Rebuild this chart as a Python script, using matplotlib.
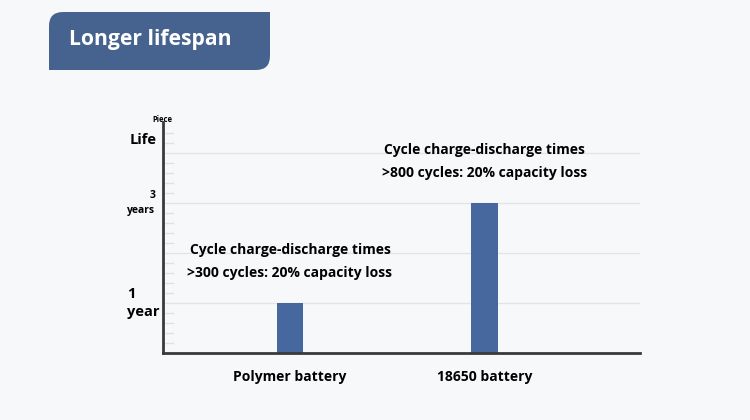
import matplotlib
matplotlib.use('Agg')
import matplotlib.pyplot as plt
from matplotlib.path import Path
from matplotlib.patches import PathPatch

plt.rcParams['font.family'] = ['Open Sans', 'DejaVu Sans']

batteries = ['Polymer battery', '18650 battery']
life_years = [1, 3]
notes = ['Cycle charge-discharge times\n>300 cycles: 20% capacity loss',
         'Cycle charge-discharge times\n>800 cycles: 20% capacity loss']

bg = '#f7f8fa'
blue = '#47689e'

fig = plt.figure(figsize=(7.5, 4.2), dpi=100, facecolor=bg)

# title badge, drawn in pixel coordinates
ov = fig.add_axes([0, 0, 1, 1], zorder=0)
ov.set_xlim(0, 750)
ov.set_ylim(420, 0)
ov.axis('off')
x0, x1, y0, y1, r = 49, 270, 12, 70, 14
verts = [(x0, y1), (x0, y0 + r), (x0, y0), (x0 + r, y0), (x1, y0),
         (x1, y1 - r), (x1, y1), (x1 - r, y1), (x0, y1), (x0, y1)]
codes = [Path.MOVETO, Path.LINETO, Path.CURVE3, Path.CURVE3, Path.LINETO,
         Path.LINETO, Path.CURVE3, Path.CURVE3, Path.LINETO, Path.CLOSEPOLY]
ov.add_patch(PathPatch(Path(verts, codes), facecolor='#46638f', edgecolor='none'))
ov.text(69, 39, 'Longer lifespan', color='white', fontsize=15.2, fontweight='bold',
        va='center', ha='left')
ov.text(162, 119, 'Piece', fontsize=5.5, fontweight='bold', ha='center', va='center')

# main chart
ax = fig.add_axes([163 / 750, 67 / 420, 477 / 750, 231 / 420], zorder=1)
ax.set_facecolor('none')
xs = list(range(len(batteries)))
ax.bar(xs, life_years, width=0.135, color=blue, zorder=3)
ax.set_xlim(-0.653, 1.8)
ax.set_ylim(0, 4.62)

for y in [1, 2, 3, 4]:
    ax.axhline(y, color='#e4e4e4', lw=1, zorder=1)
for i in range(1, 23):
    if i % 5:
        ax.plot([0, 0.02], [i * 0.2, i * 0.2], transform=ax.get_yaxis_transform(),
                color='#e0e0e0', lw=1, zorder=1)

for x, v, n in zip(xs, life_years, notes):
    ax.text(x, v + 0.83, n, ha='center', va='center', fontsize=10,
            fontweight='bold', linespacing=1.75)

ax.set_xticks(xs)
ax.set_xticklabels(batteries, fontsize=10, fontweight='bold')
ax.tick_params(axis='x', length=0, pad=12)

# y labels
yt = ax.get_yaxis_transform()
ax.set_yticks([])
ax.text(-0.0755, 1.0, '1\nyear', transform=yt, ha='left', va='center',
        fontsize=10.5, fontweight='bold', linespacing=1.35)
ax.text(-0.016, 3.0, '3\nyears', transform=yt, ha='right', va='center',
        fontsize=7.5, fontweight='bold', multialignment='right', linespacing=1.5)
ax.text(-0.014, 4.26, 'Life', transform=yt, ha='right', va='center',
        fontsize=10.5, fontweight='bold')

for s in ['top', 'right']:
    ax.spines[s].set_visible(False)
for s in ['left', 'bottom']:
    ax.spines[s].set_color('#3a3a3a')
    ax.spines[s].set_linewidth(2)
ax.spines['bottom'].set_zorder(4)

fig.savefig('out.png', dpi=100, facecolor=bg)
